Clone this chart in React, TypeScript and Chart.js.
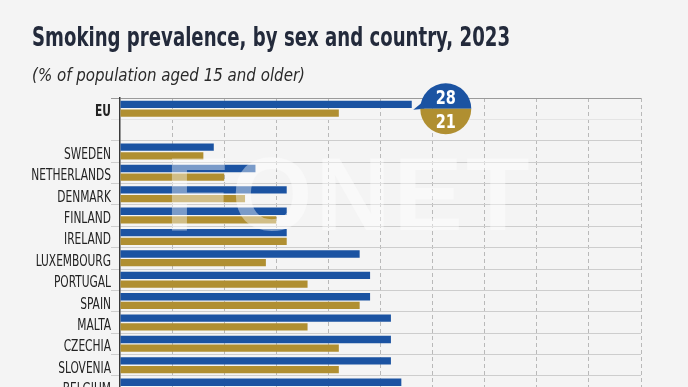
import React, { useEffect, useRef } from "react";
import { Chart, registerables } from "chart.js";

Chart.register(...registerables);

const titleText = "Smoking prevalence, by sex and country, 2023";
const subtitleText = "(% of population aged 15 and older)";
const categories = ["EU", "", "SWEDEN", "NETHERLANDS", "DENMARK", "FINLAND", "IRELAND", "LUXEMBOURG", "PORTUGAL", "SPAIN", "MALTA", "CZECHIA", "SLOVENIA", "BELGIUM"];
const men = [28, null, 9, 13, 16, 16, 16, 23, 24, 24, 26, 26, 26, 27];
const women = [21, null, 8, 10, 12, 15, 16, 14, 18, 23, 18, 21, 21, null];
const xMin = 0;
const xMax = 50;
const xStep = 5;

const BLUE = "#1b53a2";
const GOLD = "#b08f31";
const BG = "#f4f4f4";
const NARROW = '"Liberation Sans Narrow", "DejaVu Sans Condensed", "Liberation Sans", sans-serif';

function drawFitted(ctx: CanvasRenderingContext2D, text: string, x: number, y: number, font: string, color: string, width: number) {
  ctx.save();
  ctx.font = font;
  ctx.fillStyle = color;
  ctx.textBaseline = "alphabetic";
  ctx.textAlign = "left";
  const w = ctx.measureText(text).width;
  const s = width / w;
  ctx.translate(x, y);
  ctx.scale(s, 1);
  ctx.fillText(text, 0, 0);
  ctx.restore();
}

const headerPlugin = {
  id: "header",
  beforeDraw(chart: any) {
    const ctx = chart.ctx as CanvasRenderingContext2D;
    ctx.save();
    ctx.fillStyle = BG;
    ctx.fillRect(0, 0, chart.width, chart.height);
    ctx.restore();
    drawFitted(ctx, titleText, 32, 46, `bold 26px ${NARROW}`, "#232a3b", 478);
    drawFitted(ctx, subtitleText, 32, 81, `italic 18px ${NARROW}`, "#2a2a2a", 273);
  },
};

const labelPlugin = {
  id: "condensedLabels",
  afterDraw(chart: any) {
    const ctx = chart.ctx as CanvasRenderingContext2D;
    const y = chart.scales.y;
    const right = y.right - 9;
    ctx.save();
    ctx.fillStyle = "#232323";
    ctx.textAlign = "right";
    ctx.textBaseline = "alphabetic";
    categories.forEach((lab, i) => {
      if (!lab) return;
      const py = y.getPixelForValue(i);
      ctx.save();
      ctx.font = i === 0 ? `bold 16px ${NARROW}` : `16px ${NARROW}`;
      ctx.translate(right, py + 7.5);
      ctx.scale(0.74, 1);
      ctx.fillText(lab, 0, 0);
      ctx.restore();
    });
    ctx.restore();
  },
};

const overlayPlugin = {
  id: "overlay",
  afterDatasetsDraw(chart: any) {
    const ctx = chart.ctx as CanvasRenderingContext2D;
    // watermark
    ctx.save();
    ctx.font = 'bold 104px "Liberation Sans", sans-serif';
    (ctx as any).letterSpacing = "3px";
    ctx.fillStyle = "rgba(255,255,255,0.42)";
    ctx.textBaseline = "alphabetic";
    ctx.fillText("FONET", 165, 230);
    ctx.restore();

    // EU callout
    const m = chart.getDatasetMeta(0).data[0];
    const f = chart.getDatasetMeta(1).data[0];
    if (!m || !f) return;
    const r = 25.5;
    const cx = m.x + 34;
    const cy = (m.y + f.y) / 2;
    ctx.save();
    ctx.fillStyle = BLUE;
    ctx.beginPath();
    ctx.arc(cx, cy, r, Math.PI, 2 * Math.PI);
    ctx.closePath();
    ctx.fill();
    ctx.beginPath();
    ctx.moveTo(cx - r - 7, cy + 1);
    ctx.lineTo(cx - r + 4, cy - 8);
    ctx.lineTo(cx - r + 4, cy);
    ctx.closePath();
    ctx.fill();
    ctx.fillStyle = GOLD;
    ctx.beginPath();
    ctx.arc(cx, cy, r, 0, Math.PI);
    ctx.closePath();
    ctx.fill();
    ctx.fillStyle = "#ffffff";
    ctx.font = `bold 19px ${NARROW}`;
    ctx.textAlign = "center";
    ctx.textBaseline = "alphabetic";
    const texts = [String(men[0]), String(women[0])];
    const ys = [cy - 5, cy + 19];
    texts.forEach((t, k) => {
      ctx.save();
      ctx.translate(cx, ys[k]);
      ctx.scale(0.85, 1);
      ctx.fillText(t, 0, 0);
      ctx.restore();
    });
    ctx.restore();
  },
};

export default function App() {
  const ref = useRef<HTMLCanvasElement | null>(null);
  useEffect(() => {
    if (!ref.current) return;
    const chart = new Chart(ref.current, {
      type: "bar",
      data: {
        labels: categories,
        datasets: [
          { label: "Men", data: men, backgroundColor: BLUE, categoryPercentage: 0.814, barPercentage: 0.84 },
          { label: "Women", data: women, backgroundColor: GOLD, categoryPercentage: 0.814, barPercentage: 0.84 },
        ],
      },
      options: {
        indexAxis: "y",
        animation: false,
        responsive: true,
        maintainAspectRatio: false,
        layout: { padding: { top: 98, right: 47, left: 0, bottom: 2.7 } },
        plugins: { legend: { display: false }, tooltip: { enabled: false }, title: { display: false } },
        scales: {
          x: {
            type: "linear",
            min: xMin,
            max: xMax,
            ticks: { display: false, stepSize: xStep },
            border: { display: false, dash: [4, 3] },
            grid: {
              drawTicks: false,
              color: (c: any) => (c.index === 0 ? "rgba(0,0,0,0)" : "#b9b9b9"),
              lineWidth: 1,
            },
            afterFit: (s: any) => { s.height = 0; },
          } as any,
          y: {
            type: "category",
            border: { display: true, color: "#3a3a3a", width: 1.5 },
            grid: {
              offset: true,
              tickLength: 9,
              color: (c: any) => (c.index === 0 ? "#9a9a9a" : c.index === 1 ? "#e4e4e4" : "#cdcdcd"),
              lineWidth: 1,
            },
            ticks: { display: false, autoSkip: false },
            afterFit: (s: any) => { s.width = 120; },
          } as any,
        },
      },
      plugins: [headerPlugin, overlayPlugin, labelPlugin],
    });
    return () => chart.destroy();
  }, []);
  return (
    <div style={{ position: "fixed", left: 0, top: 0, width: 688, height: 387, overflow: "hidden", background: BG }}>
      <div style={{ position: "relative", width: 688, height: 400 }}>
        <canvas ref={ref} />
      </div>
    </div>
  );
}
